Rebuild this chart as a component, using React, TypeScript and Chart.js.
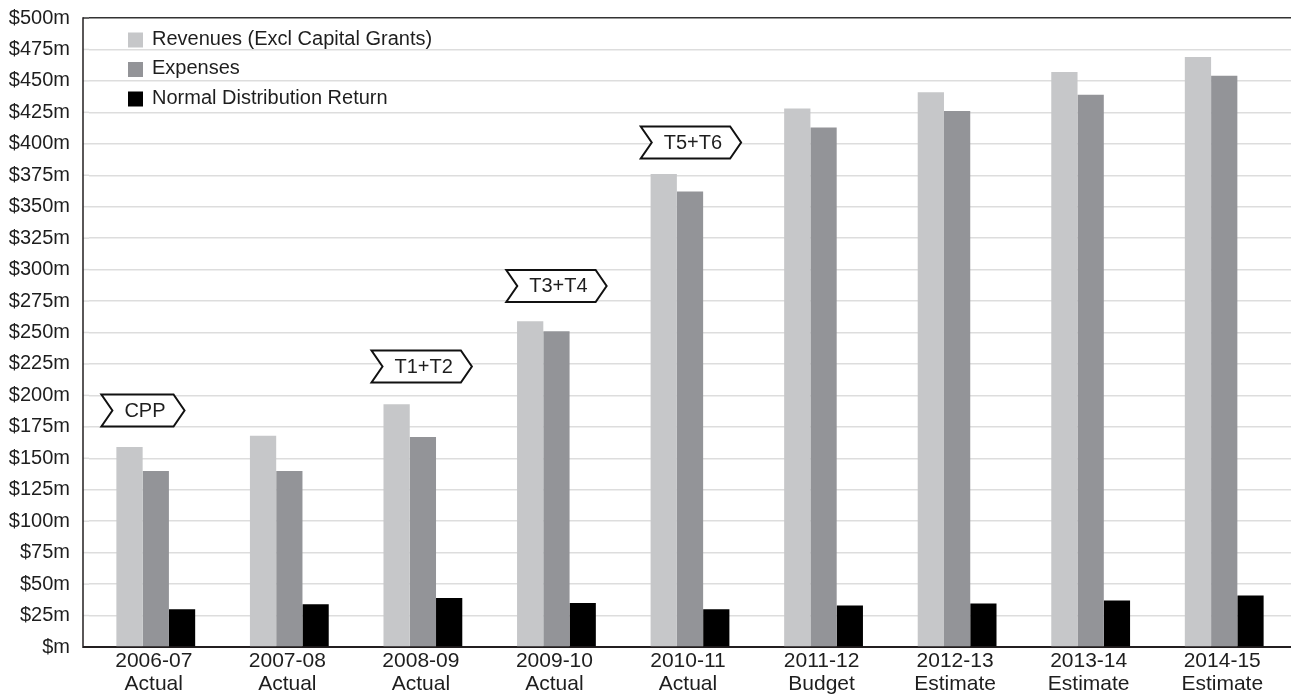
import React, { useEffect, useRef } from 'react';
import { Chart, registerables } from 'chart.js';

Chart.register(...registerables);

const categoryYears = ['2006-07', '2007-08', '2008-09', '2009-10', '2010-11', '2011-12', '2012-13', '2013-14', '2014-15'];
const categoryStatus = ['Actual', 'Actual', 'Actual', 'Actual', 'Actual', 'Budget', 'Estimate', 'Estimate', 'Estimate'];

const revenues = [159, 168, 193, 259, 376, 428, 441, 457, 469];
const expenses = [140, 140, 167, 251, 362, 413, 426, 439, 454];
const normalDistributionReturn = [30, 34, 39, 35, 30, 33, 34.5, 37, 41];

const seriesLabels = ['Revenues (Excl Capital Grants)', 'Expenses', 'Normal Distribution Return'];
const seriesColors = ['#c6c7c9', '#939498', '#000000'];

const yMin = 0;
const yMax = 500;
const yStep = 25;

const annotationLabels = ['CPP', 'T1+T2', 'T3+T4', 'T5+T6'];
const annotationIndex = [0, 2, 3, 4];
const annotationOffset = [-0.096, -0.009, 0.0, 0.007];
const annotationValue = [188, 223, 287, 401];

const FONT = "'Liberation Sans', Arial, sans-serif";
const TEXT = '#1e1e1e';
const AXIS = '#231f20';
const GRID = '#dddddd';
const AXIS_X = 83;

const axisPlugin = {
  id: 'axisStubs',
  beforeDatasetsDraw(chart: any) {
    const ctx = chart.ctx;
    const ys = chart.scales.y;
    const { left, top, bottom } = chart.chartArea;
    ctx.save();
    ys.ticks.forEach((t: any) => {
      const y = ys.getPixelForValue(t.value);
      ctx.beginPath();
      ctx.lineWidth = 1.5;
      ctx.strokeStyle = t.value === yMax ? '#333333' : GRID;
      ctx.moveTo(AXIS_X, y);
      ctx.lineTo(left, y);
      ctx.stroke();
    });
    ctx.beginPath();
    ctx.lineWidth = 2;
    ctx.strokeStyle = AXIS;
    ctx.moveTo(AXIS_X, bottom);
    ctx.lineTo(left, bottom);
    ctx.stroke();
    ctx.beginPath();
    ctx.lineWidth = 1.5;
    ctx.strokeStyle = AXIS;
    ctx.moveTo(AXIS_X, top - 0.75);
    ctx.lineTo(AXIS_X, bottom + 1);
    ctx.stroke();
    ctx.restore();
  },
};

const overlayPlugin = {
  id: 'overlay',
  afterDatasetsDraw(chart: any) {
    const ctx = chart.ctx;
    const xs = chart.scales.x;
    const ys = chart.scales.y;
    const catW = (chart.chartArea.right - chart.chartArea.left) / categoryYears.length;
    ctx.save();
    ctx.font = `20px ${FONT}`;
    annotationLabels.forEach((label, i) => {
      const cx = xs.getPixelForValue(annotationIndex[i]) + annotationOffset[i] * catW;
      const cy = ys.getPixelForValue(annotationValue[i]);
      const tw = ctx.measureText(label).width;
      const w = tw + 42;
      const h = 32;
      const p = 11;
      const L = cx - w / 2;
      const R = cx + w / 2;
      const T = cy - h / 2;
      const B = cy + h / 2;
      ctx.beginPath();
      ctx.moveTo(L, T);
      ctx.lineTo(R - p, T);
      ctx.lineTo(R, cy);
      ctx.lineTo(R - p, B);
      ctx.lineTo(L, B);
      ctx.lineTo(L + p, cy);
      ctx.closePath();
      ctx.fillStyle = '#ffffff';
      ctx.fill();
      ctx.lineWidth = 2;
      ctx.strokeStyle = '#111111';
      ctx.lineJoin = 'miter';
      ctx.stroke();
      ctx.fillStyle = TEXT;
      ctx.textAlign = 'center';
      ctx.textBaseline = 'middle';
      ctx.fillText(label, cx + 2, cy + 1);
    });
    const lx = 128;
    const ly0 = chart.chartArea.top + 21;
    const spacing = 29.5;
    ctx.font = `20px ${FONT}`;
    ctx.textAlign = 'left';
    ctx.textBaseline = 'middle';
    seriesLabels.forEach((label, i) => {
      const y = ly0 + i * spacing;
      ctx.fillStyle = seriesColors[i];
      ctx.fillRect(lx, y - 6.5, 15, 15);
      ctx.fillStyle = TEXT;
      ctx.fillText(label, lx + 24, y);
    });
    ctx.restore();
  },
};

export default function App() {
  const canvasRef = useRef<HTMLCanvasElement | null>(null);

  useEffect(() => {
    document.body.style.margin = '0';
    const canvas = canvasRef.current;
    if (!canvas) return;
    const chart = new Chart(canvas, {
      type: 'bar',
      data: {
        labels: categoryYears.map((y, i) => [y, categoryStatus[i]]),
        datasets: [
          { label: seriesLabels[0], data: revenues, backgroundColor: seriesColors[0] },
          { label: seriesLabels[1], data: expenses, backgroundColor: seriesColors[1] },
          { label: seriesLabels[2], data: normalDistributionReturn, backgroundColor: seriesColors[2] },
        ],
      },
      options: {
        animation: false,
        responsive: false,
        maintainAspectRatio: false,
        layout: { padding: { top: 18, right: 0, bottom: 0, left: 0 } },
        datasets: { bar: { categoryPercentage: 0.59, barPercentage: 1, borderWidth: 0 } },
        plugins: {
          legend: { display: false },
          tooltip: { enabled: false },
          title: { display: false },
        },
        scales: {
          x: {
            afterFit: (s: any) => {
              s.height = 48;
              s.paddingLeft = 0;
              s.paddingRight = 0;
            },
            grid: { display: false, drawTicks: false },
            border: { display: true, color: AXIS, width: 2 },
            ticks: {
              color: TEXT,
              font: { family: FONT, size: 21, lineHeight: 1.1 },
              padding: 3,
              labelOffset: -2,
              maxRotation: 0,
              autoSkip: false,
            },
          },
          y: {
            min: yMin,
            max: yMax,
            afterFit: (s: any) => {
              s.width = 89;
              s.paddingTop = 0;
              s.paddingBottom = 0;
            },
            grid: {
              drawTicks: false,
              color: (c: any) => (c.tick && c.tick.value === yMax ? '#333333' : GRID),
              lineWidth: 1.5,
            },
            border: { display: false },
            ticks: {
              stepSize: yStep,
              color: TEXT,
              padding: 19,
              font: { family: FONT, size: 20 },
              callback: (v: any) => (v === 0 ? '$m' : `$${v}m`),
            },
          },
        },
      },
      plugins: [axisPlugin, overlayPlugin],
    });
    return () => chart.destroy();
  }, []);

  return (
    <div style={{ width: 1291, height: 695, position: 'relative', background: '#ffffff', overflow: 'hidden' }}>
      <canvas ref={canvasRef} width={1291} height={695} style={{ display: 'block', width: 1291, height: 695 }} />
    </div>
  );
}
